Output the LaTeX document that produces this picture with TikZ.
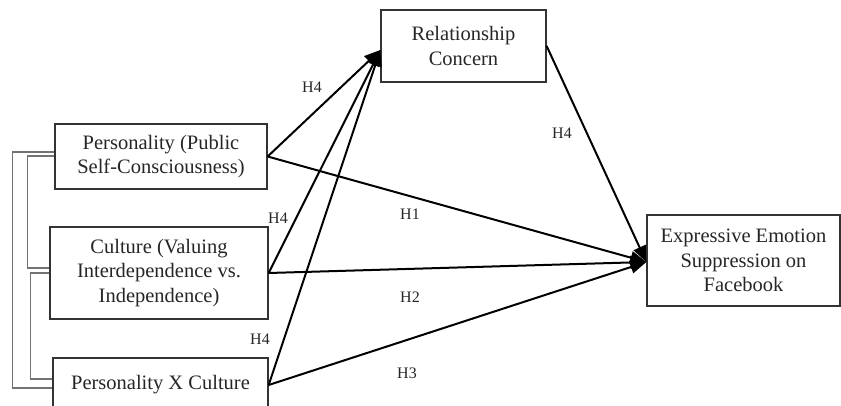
\documentclass[tikz,border=0pt]{standalone}
\usepackage{fontspec}
\setmainfont{Liberation Serif}
\usetikzlibrary{arrows.meta}
\begin{document}
\begin{tikzpicture}[x=1pt,y=-1pt,
 box/.style={draw=black!80, line width=1.3pt, align=center, inner sep=0pt, text=black!85, font=\fontsize{20.5}{24.5}\selectfont},
 arr/.style={line width=2pt, -{Triangle[length=16pt,width=13pt]}},
 brk/.style={draw=black!55, line width=1.4pt},
 lab/.style={font=\fontsize{16}{18}\selectfont, text=black!85}]
\useasboundingbox (0,0) rectangle (841,406);
\clip (0,0) rectangle (841,406);
\node[box, minimum width=212pt, minimum height=65pt] (P) at (161,156.5) {Personality (Public\\Self-Consciousness)};
\node[box, minimum width=218pt, minimum height=92pt] (C) at (159,273) {Culture (Valuing\\Interdependence vs.\\Independence)};
\node[box, minimum width=215pt, minimum height=54pt] (PC) at (160.5,385) {Personality X Culture};
\node[box, minimum width=165pt, minimum height=72pt] (RC) at (463.5,46) {Relationship\\Concern};
\node[box, minimum width=193pt, minimum height=91pt] (E) at (743.5,260.5) {Expressive Emotion\\Suppression on\\Facebook};
% bracket lines
\draw[brk] ([yshift=4.5pt]P.west) -- ++(-42pt,0) |- ([yshift=-3pt]PC.west);
\draw[brk] ([yshift=0.5pt]P.west) -- ++(-27pt,0) |- ([yshift=5pt]C.west);
\draw[brk] (C.west) -- ++(-19pt,0) |- ([yshift=6pt]PC.west);
% arrows
\draw[arr] (P.east) -- ([yshift=-4pt]RC.west);
\draw[arr] (C.east) -- ([yshift=-4pt]RC.west);
\draw[arr] (PC.east) -- ([yshift=-4pt]RC.west);
\draw[arr] (P.east) -- ([yshift=-1.5pt]E.west);
\draw[arr] (C.east) -- ([yshift=-1.5pt]E.west);
\draw[arr] (PC.east) -- ([yshift=-1.5pt]E.west);
\draw[arr] (RC.east) -- ([yshift=-1.5pt]E.west);
% labels
\node[lab] (l1) at (312,87) {H4};
\node[lab] (l2) at (562,133) {H4};
\node[lab] (l3) at (410,214) {H1};
\node[lab] (l4) at (278,218) {H4};
\node[lab] (l5) at (410,297) {H2};
\node[lab] (l6) at (260,339) {H4};
\node[lab] (l7) at (407,373) {H3};
\end{tikzpicture}
\end{document}
